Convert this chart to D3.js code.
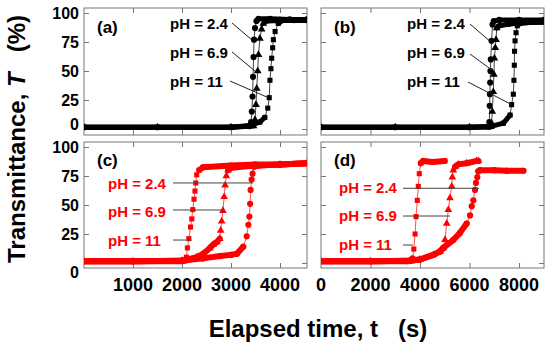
<!DOCTYPE html>
<html>
<head>
<meta charset="utf-8">
<script src="https://cdn.jsdelivr.net/npm/d3@7"></script>
<style>
  body { margin: 0; background: #fff; }
  text { font-family: "Liberation Sans", Arial, sans-serif; font-weight: bold; }
</style>
</head>
<body>
<svg id="chart" width="550" height="349"></svg>
<script>
// ---- data: [elapsed time (s), transmittance (%)] ----
// (a)
const a_pH24 = [[0,1.5],[1500,1.5],[3000,1.5],[3380,2.5],[3410,6],[3425,15],[3440,28],[3450,45],[3460,62],[3470,77],[3490,87],[3520,93],[3560,95],[3800,95],[4200,94.5],[4551,94.5]];
const a_pH69 = [[0,1.5],[1500,1.5],[3000,1.5],[3460,2.5],[3490,8],[3510,21],[3525,35],[3545,50],[3560,64],[3590,78],[3625,86],[3660,91],[3720,93],[4000,93.5],[4551,93.5]];
const a_pH11 = [[0,1.5],[1500,1.5],[3000,1.5],[3390,3],[3590,6],[3690,10],[3750,18],[3780,27],[3795,42],[3815,52],[3830,61],[3850,70],[3865,77],[3900,84],[3965,91],[4070,94],[4300,93.5],[4551,93.5]];
// (b)
const b_pH24 = [[0,1.5],[3000,1.5],[6000,1.5],[6780,2],[6800,6],[6815,20],[6825,30],[6835,40],[6845,50],[6860,60],[6890,76],[6930,90],[6980,93],[7200,94],[8000,94],[9009,94]];
const b_pH69 = [[0,1.5],[3000,1.5],[6000,1.5],[6860,2],[6890,5],[6920,15],[6960,32],[6985,47],[7005,61],[7040,70],[7070,77],[7100,87],[7200,89],[7500,90],[8000,91.5],[9009,92]];
const b_pH11 = [[0,1.5],[3000,1.5],[6000,1.5],[6830,2],[7370,5],[7640,12],[7700,21],[7770,30],[7795,42],[7810,55],[7820,67],[7840,76],[7880,83],[7930,89],[8040,91],[8500,92],[9009,92.5]];
// (c)
const c_sq  = [[0,1.5],[1000,1.5],[2000,1.5],[2060,2],[2090,5],[2110,13],[2140,21],[2175,31],[2200,38],[2220,46],[2245,55],[2265,62],[2280,69],[2300,76],[2350,80],[2430,82.5],[3000,84],[3500,85],[4000,85],[4551,86]];
const c_tri = [[0,1.5],[1000,1.5],[2000,2],[2300,5],[2435,8],[2570,13],[2640,16],[2710,18],[2770,21],[2790,28],[2810,36],[2835,45],[2860,57],[2880,67],[2905,75],[2940,80],[3010,82],[3500,84],[4000,85],[4551,86]];
const c_cir = [[0,1.5],[1000,1.5],[2000,2],[2430,4],[2780,6],[3000,7],[3120,8],[3250,14],[3320,23],[3355,33],[3375,40],[3390,51],[3400,63],[3420,72],[3440,77],[3470,83],[3550,84],[4000,85],[4551,86]];
// (d)
const d_sq  = [[0,1.5],[2000,1.5],[3500,1.5],[3600,2],[3700,4],[3750,12],[3800,25],[3840,40],[3890,54],[3930,66],[3970,77],[4030,86],[4130,88],[4500,87],[5000,88]];
const d_tri = [[0,1.5],[2000,1.5],[3600,2],[4000,3],[4540,7],[4810,10],[4940,13],[5010,20],[5080,34],[5145,46],[5210,56],[5280,66],[5305,74],[5345,80],[5415,83],[5550,85],[5885,86],[6290,88],[6360,88]];
const d_cir = [[0,1.5],[2000,1.5],[3600,2],[4000,3],[4540,7],[4810,10],[4940,13],[5350,20],[5615,26],[5885,34],[6020,41],[6090,49],[6155,54],[6220,63],[6260,69],[6315,74],[6355,79],[6425,80],[7000,80],[7500,79.5],[8175,79.5]];

const yTicks = [0, 25, 50, 75, 100];
const xTicksShort = [1000, 2000, 3000, 4000];
const xTicksLong = [0, 2000, 4000, 6000, 8000];
const labelsTop = ["pH = 2.4", "pH = 6.9", "pH = 11"];
// leader line targets in data units, same order as the labels
const lead_a = [[3422,77],[3490,50],[3761,27]];
const lead_b = [[6828,75.6],[6896,51],[7704,21]];
const lead_c = [[3449,69],[2837,45.7],[2190,19.8]];
const lead_d = [[6383,64.4],[5212,40.5],[3717,15.5]];

// ---- layout ----
const svg = d3.select("#chart");
const panels = [
  { key: "a", box: [84, 307, 8, 135], yr: [129, 13], tmax: 4551, color: "#000", line: "#444", band: 5,
    series: [a_pH24, a_pH69, a_pH11], shapes: ["circle", "triangle", "square"],
    lead: lead_a, labX: 170, labY: [29, 58, 87], lineStart: [[232, 23], [232, 52], [230, 81]],
    labColor: "#000", leadColor: "#222", xTicks: xTicksShort },
  { key: "b", box: [321, 544, 8, 135], yr: [129, 13], tmax: 9009, color: "#000", line: "#444", band: 5,
    series: [b_pH24, b_pH69, b_pH11], shapes: ["circle", "triangle", "square"],
    lead: lead_b, labX: 407, labY: [29, 58, 87], lineStart: [[470, 24], [470, 54], [468, 82]],
    labColor: "#000", leadColor: "#222", xTicks: xTicksLong.slice(1) },
  { key: "c", box: [84, 307, 142, 268], yr: [263, 147], tmax: 4551, color: "#ff0000", line: "#ff5050", band: 6,
    series: [c_sq, c_tri, c_cir], shapes: ["square", "triangle", "circle"],
    lead: lead_c, labX: 108, labY: [189, 217, 246], lineStart: [[173], [173], [173]],
    labColor: "#ff0000", leadColor: "#444", xTicks: xTicksShort },
  { key: "d", box: [321, 544, 142, 268], yr: [263, 147], tmax: 9009, color: "#ff0000", line: "#ff5050", band: 6,
    series: [d_sq, d_tri, d_cir], shapes: ["square", "triangle", "circle"],
    lead: lead_d, labX: 339, labY: [193, 221, 250], lineStart: [[403], [403], [403]],
    labColor: "#ff0000", leadColor: "#444", xTicks: xTicksLong.slice(1) }
];

const symbols = {
  circle: d3.symbol().type(d3.symbolCircle).size(30),
  square: d3.symbol().type(d3.symbolSquare).size(26),
  triangle: d3.symbol().type(d3.symbolTriangle).size(26)
};

panels.forEach(function (p) {
  const [x0, x1, y0, y1] = p.box;
  const x = d3.scaleLinear().domain([0, p.tmax]).range([x0, x1]);
  const y = d3.scaleLinear().domain([0, 100]).range(p.yr);
  const g = svg.append("g");

  svg.append("clipPath").attr("id", "clip-" + p.key)
    .append("rect").attr("x", x0).attr("y", y0).attr("width", x1 - x0).attr("height", y1 - y0);

  // inward ticks on all four sides
  const tickStyle = function (sel) {
    sel.select(".domain").remove();
    sel.selectAll("line").attr("stroke", "#777");
  };
  g.append("g").attr("transform", "translate(" + x0 + ",0)")
    .call(d3.axisLeft(y).tickValues(yTicks).tickSize(-5).tickFormat("")).call(tickStyle);
  g.append("g").attr("transform", "translate(" + x1 + ",0)")
    .call(d3.axisRight(y).tickValues(yTicks).tickSize(-5).tickFormat("")).call(tickStyle);
  g.append("g").attr("transform", "translate(0," + y0 + ")")
    .call(d3.axisTop(x).tickValues(p.xTicks).tickSize(-5).tickFormat("")).call(tickStyle);
  g.append("g").attr("transform", "translate(0," + y1 + ")")
    .call(d3.axisBottom(x).tickValues(p.xTicks).tickSize(-5).tickFormat("")).call(tickStyle);

  g.append("rect").attr("x", x0).attr("y", y0).attr("width", x1 - x0).attr("height", y1 - y0)
    .attr("fill", "none").attr("stroke", "#777").attr("stroke-width", 1);

  // curves
  const plot = g.append("g").attr("clip-path", "url(#clip-" + p.key + ")");
  p.series.forEach(function (s, i) {
    const pts = s.map(d => [x(d[0]), y(d[1])]);
    plot.append("path").attr("d", d3.line()(pts))
      .attr("fill", "none").attr("stroke", p.line).attr("stroke-width", 1);
    // dense stretches of points read as a thick band
    for (let k = 1; k < pts.length; k++) {
      const dx = Math.abs(pts[k][0] - pts[k - 1][0]);
      const dy = Math.abs(pts[k][1] - pts[k - 1][1]);
      if (dy < 1.5 * dx) {
        plot.append("line")
          .attr("x1", pts[k - 1][0]).attr("y1", pts[k - 1][1])
          .attr("x2", pts[k][0]).attr("y2", pts[k][1])
          .attr("stroke", p.color).attr("stroke-width", p.band).attr("stroke-linecap", "round");
      }
    }
    plot.selectAll(null).data(pts).enter().append("path")
      .attr("d", symbols[p.shapes[i]])
      .attr("transform", d => "translate(" + d[0] + "," + d[1] + ")")
      .attr("fill", p.color);
  });

  // panel letter
  g.append("text").attr("x", x0 + 13).attr("y", p.key === "a" || p.key === "b" ? 33 : 166)
    .attr("font-size", 17).attr("fill", "#000").text("(" + p.key + ")");

  // pH labels and leader lines
  labelsTop.forEach(function (lab, i) {
    g.append("text").attr("x", p.labX).attr("y", p.labY[i])
      .attr("font-size", 15).attr("fill", p.labColor).text(lab);
    const end = [x(p.lead[i][0]), y(p.lead[i][1])];
    const st = p.lineStart[i].length === 2 ? p.lineStart[i] : [p.lineStart[i][0], end[1]];
    g.append("line").attr("x1", st[0]).attr("y1", st[1]).attr("x2", end[0]).attr("y2", end[1])
      .attr("stroke", p.leadColor).attr("stroke-width", 1);
  });

  // tick labels on the outer panels only
  if (p.key === "a" || p.key === "c") {
    g.selectAll(null).data(yTicks).enter().append("text")
      .attr("x", 79)
      .attr("y", d => y(d) + 5.5 + (d === 0 ? (p.key === "a" ? -5 : 9) : 0))
      .attr("text-anchor", "end").attr("font-size", 16).attr("fill", "#000")
      .text(d => d);
  }
  if (p.key === "c" || p.key === "d") {
    const vals = p.key === "c" ? xTicksShort : xTicksLong;
    g.selectAll(null).data(vals).enter().append("text")
      .attr("x", d => x(d)).attr("y", 291)
      .attr("text-anchor", "middle").attr("font-size", 18).attr("fill", "#000")
      .text(d => d);
  }
});

// axis titles
const yTitle = svg.append("text").attr("transform", "translate(25,139) rotate(-90)")
  .attr("text-anchor", "middle").attr("font-size", 24).attr("fill", "#000")
  .attr("xml:space", "preserve");
yTitle.append("tspan").text("Transmittance, ");
yTitle.append("tspan").attr("font-style", "italic").text("T");
yTitle.append("tspan").text("   (%)");

svg.append("text").attr("x", 318).attr("y", 337)
  .attr("text-anchor", "middle").attr("font-size", 24).attr("fill", "#000")
  .attr("xml:space", "preserve")
  .text("Elapsed time, t   (s)");
</script>
</body>
</html>
